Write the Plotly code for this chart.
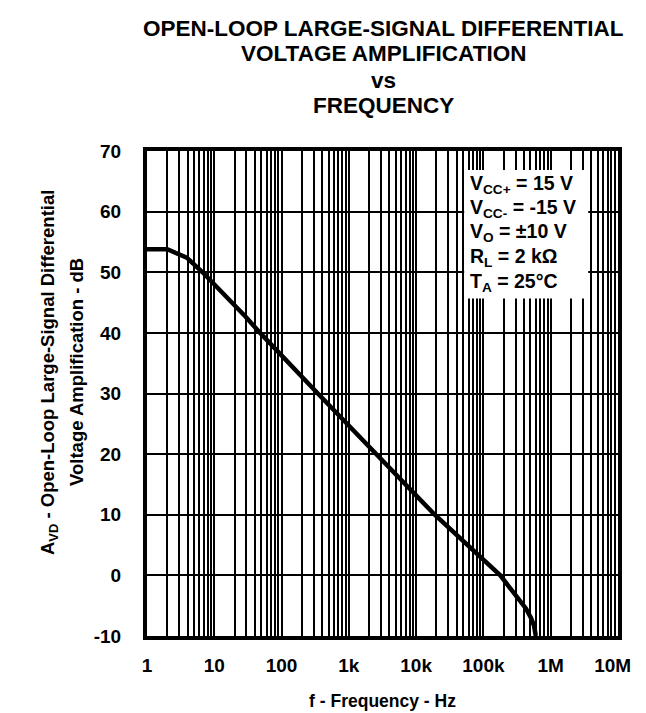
import plotly.graph_objects as go

# Data
freq_hz = [1, 2, 3.9, 6.7, 29, 48, 346, 2600, 18900, 178000, 277000, 430000, 507000, 565000, 600000]
avd_db = [53.8, 53.8, 52.4, 50.0, 42.7, 40.0, 30.0, 20.0, 10.0, 0.0, -2.7, -5.5, -7.0, -8.3, -10.0]

x_tickvals = [1, 10, 100, 1e3, 1e4, 1e5, 1e6, 1e7]
x_ticktext = ["1", "10", "100", "1k", "10k", "100k", "1M", "10M&nbsp;&nbsp;"]
y_tickvals = [-10, 0, 10, 20, 30, 40, 50, 60, 70]

title_lines = ["OPEN-LOOP LARGE-SIGNAL DIFFERENTIAL", "VOLTAGE AMPLIFICATION", "vs", "FREQUENCY"]
cond_lines = [
    "V<sub>CC+</sub> = 15 V",
    "V<sub>CC-</sub> = -15 V",
    "V<sub>O</sub> = ±10 V",
    "R<sub>L</sub> = 2 kΩ",
    "T<sub>A</sub> = 25°C",
]
ytitle_lines = ["A<sub>VD</sub> - Open-Loop Large-Signal Differential", "Voltage Amplification - dB"]

FONT = "Liberation Sans, Arial, sans-serif"

fig = go.Figure()
fig.add_trace(go.Scatter(
    x=freq_hz, y=avd_db, mode="lines",
    line=dict(color="black", width=4.5),
    showlegend=False, hoverinfo="skip",
))

W, H = 646, 713
L, R, T, B = 139, 17, 143, 83
pw, ph = W - L - R, H - T - B

def px_x(p):
    return (p - L) / pw

def px_y(p):
    return 1 - (p - T) / ph

fig.update_layout(
    width=W, height=H,
    margin=dict(l=L, r=R, t=T, b=B),
    paper_bgcolor="white", plot_bgcolor="white",
    font=dict(family=FONT, color="black", size=19),
    xaxis=dict(
        type="log", range=[0, 7],
        tickvals=x_tickvals, ticktext=["<b>%s</b>" % t for t in x_ticktext],
        tickfont=dict(size=19), ticklabeloverflow="allow",
        showgrid=True, gridcolor="black", gridwidth=2,
        minor=dict(showgrid=True, gridcolor="black", gridwidth=1.5, dtick="D1", ticks=""),
        showline=True, linecolor="black", linewidth=4, mirror=True,
        ticks="", ticklabelstandoff=9, zeroline=False,
        title=dict(text="<b>f - Frequency - Hz</b>", font=dict(size=17.5), standoff=21),
    ),
    yaxis=dict(
        range=[-10, 70],
        tickvals=y_tickvals, ticktext=["<b>%d</b>" % v for v in y_tickvals],
        tickfont=dict(size=19),
        showgrid=True, gridcolor="black", gridwidth=2,
        showline=True, linecolor="black", linewidth=4, mirror=True,
        ticks="", ticklabelstandoff=18, zeroline=False,
    ),
)

# title, one annotation per line
title_y = [20, 45, 72, 97]
for txt, yy in zip(title_lines, title_y):
    fig.add_annotation(
        xref="paper", yref="paper", x=px_x(385), y=px_y(yy),
        xanchor="center", yanchor="middle", showarrow=False,
        text="<b>%s</b>" % txt,
        font=dict(size=22.5, family=FONT, color="black"),
    )

# white conditions box
fig.add_shape(type="rect", xref="paper", yref="paper",
              x0=px_x(469), x1=px_x(598), y0=px_y(291), y1=px_y(162),
              fillcolor="white", line=dict(width=0), layer="above")

cond_y = [177, 201, 225, 250, 275]
for txt, yy in zip(cond_lines, cond_y):
    fig.add_annotation(
        xref="paper", yref="paper", x=px_x(473), y=px_y(yy),
        xanchor="left", yanchor="middle", align="left", showarrow=False,
        text="<b>%s</b>" % txt,
        font=dict(size=19.5, family=FONT, color="black"),
    )

# y-axis title (two lines)
for txt, xx in zip(ytitle_lines, [37, 65]):
    fig.add_annotation(
        xref="paper", yref="paper", x=px_x(xx), y=px_y(365),
        xanchor="center", yanchor="middle", textangle=-90, showarrow=False,
        text="<b>%s</b>" % txt,
        font=dict(size=18.5, family=FONT, color="black"),
    )

fig.write_html("out.html")
